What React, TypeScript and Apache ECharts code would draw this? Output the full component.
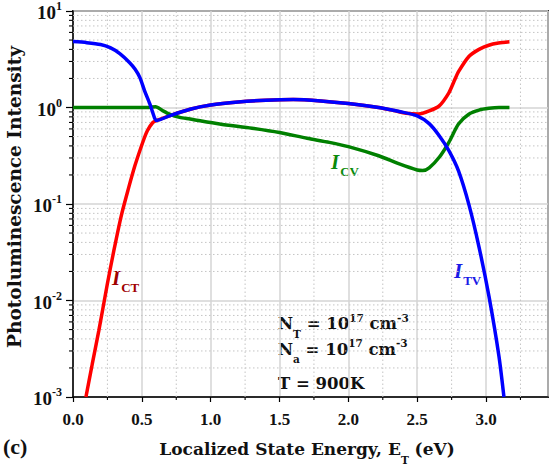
import React, { useEffect, useRef } from "react";
import * as echarts from "echarts";

// ---- data ----
const xCT = [0.094, 0.14, 0.188, 0.25, 0.297, 0.35, 0.4, 0.45, 0.51, 0.54, 0.58, 0.61, 0.7, 0.85, 1.0, 1.2, 1.4, 1.6, 1.8, 2.0, 2.22, 2.33, 2.42, 2.51, 2.587, 2.66, 2.73, 2.77, 2.8, 2.877, 2.949, 3.02, 3.09, 3.17];
const yCT = [0.001, 0.0022, 0.0049, 0.015, 0.033, 0.075, 0.14, 0.25, 0.45, 0.575, 0.7, 0.735, 0.82, 0.96, 1.06, 1.14, 1.19, 1.21, 1.17, 1.1, 1.0, 0.93, 0.87, 0.855, 0.92, 1.04, 1.42, 1.9, 2.35, 3.4, 4.0, 4.42, 4.65, 4.8];

const xCV = [0, 0.2, 0.4, 0.55, 0.6, 0.65, 0.7, 0.775, 0.85, 1.065, 1.3, 1.5, 1.7, 1.862, 2.0, 2.22, 2.37, 2.5, 2.54, 2.587, 2.66, 2.73, 2.8, 2.877, 2.949, 3.02, 3.094, 3.17];
const yCV = [1.0, 1.0, 1.0, 1.0, 1.02, 0.93, 0.855, 0.79, 0.76, 0.675, 0.61, 0.55, 0.48, 0.435, 0.393, 0.316, 0.26, 0.225, 0.222, 0.237, 0.305, 0.436, 0.674, 0.855, 0.94, 0.98, 1.0, 1.0];

const xTV = [0, 0.1, 0.2, 0.27, 0.34, 0.41, 0.45, 0.486, 0.52, 0.558, 0.594, 0.61, 0.7, 0.85, 1.0, 1.2, 1.4, 1.6, 1.8, 2.0, 2.22, 2.37, 2.5, 2.587, 2.66, 2.73, 2.8, 2.877, 2.949, 3.022, 3.094, 3.13];
const yTV = [4.82, 4.7, 4.5, 4.17, 3.62, 2.93, 2.5, 2.04, 1.49, 1.09, 0.77, 0.735, 0.82, 0.96, 1.06, 1.14, 1.19, 1.21, 1.17, 1.1, 1.0, 0.91, 0.82, 0.68, 0.51, 0.357, 0.22, 0.0967, 0.0358, 0.0109, 0.00263, 0.001];

const xMinorTicks = [0.25, 0.75, 1.25, 1.75, 2.25, 2.75, 3.25];
const yDecades = [0.001, 0.01, 0.1, 1];
const yMinorMultipliers = [2, 3, 4, 5, 6, 7, 8, 9];

const X_MIN = 0;
const X_MAX = 3.45;
const Y_MIN = 0.001;
const Y_MAX = 10;

const FONT = "Liberation Serif";
const TITLE_FONT = "DejaVu Serif";

const yMinorValues: number[] = [];
yDecades.forEach((d) => yMinorMultipliers.forEach((m) => yMinorValues.push(d * m)));

const zip = (xs: number[], ys: number[]) => xs.map((x, i) => [x, ys[i]]);

export default function App() {
  const ref = useRef<HTMLDivElement>(null);
  useEffect(() => {
    if (!ref.current) return;
    const chart = echarts.init(ref.current, null, { renderer: "svg" });
    const minorStroke = { stroke: "#c4c4c4", lineWidth: 1, lineDash: [1.5, 2.5] };
    const option: any = {
      animation: false,
      backgroundColor: "#fff",
      grid: {
        left: 73,
        right: 2,
        top: 10,
        bottom: 72,
        show: true,
        borderColor: "#333",
        borderWidth: 2,
        backgroundColor: "transparent",
      },
      xAxis: {
        type: "value",
        min: X_MIN,
        max: X_MAX,
        interval: 0.5,
        axisLine: { show: true, onZero: false, lineStyle: { color: "#000", width: 1.5 } },
        axisTick: { show: true, inside: false, length: 5, lineStyle: { color: "#000", width: 1.2 } },
        axisLabel: {
          showMaxLabel: false,
          margin: 14,
          color: "#111",
          fontFamily: FONT,
          fontWeight: "bold",
          fontSize: 17,
          formatter: (v: number) => v.toFixed(1),
        },
        splitLine: { show: true, lineStyle: { color: "#d4d4d4", width: 1.5 } },
      },
      yAxis: {
        type: "log",
        logBase: 10,
        min: Y_MIN,
        max: Y_MAX,
        axisLine: { show: true, onZero: false, lineStyle: { color: "#000", width: 1.5 } },
        axisTick: { show: true, inside: false, length: 7, lineStyle: { color: "#000", width: 1.2 } },
        axisLabel: {
          margin: 11,
          color: "#111",
          formatter: (v: number) => `{b|10}{s|${Math.round(Math.log10(v))}}`,
          rich: {
            b: { fontFamily: FONT, fontWeight: "bold", fontSize: 19, lineHeight: 22, verticalAlign: "bottom", color: "#111" },
            s: { fontFamily: FONT, fontWeight: "bold", fontSize: 12, lineHeight: 12, verticalAlign: "top", color: "#111" },
          },
        },
        splitLine: { show: true, lineStyle: { color: "#d4d4d4", width: 1.5 } },
      },
      series: [
        {
          type: "custom",
          z: 1,
          silent: true,
          clip: false,
          data: yMinorValues.map((v) => [X_MIN, v]),
          renderItem: (_p: any, api: any) => {
            const v = api.value(1);
            const a = api.coord([X_MIN, v]);
            const b = api.coord([X_MAX, v]);
            return {
              type: "group",
              children: [
                { type: "line", shape: { x1: a[0], y1: a[1], x2: b[0], y2: b[1] }, style: minorStroke },
                { type: "line", shape: { x1: a[0] - 4, y1: a[1], x2: a[0], y2: a[1] }, style: { stroke: "#000", lineWidth: 1.1 } },
              ],
            };
          },
        },
        {
          type: "custom",
          z: 1,
          silent: true,
          clip: false,
          data: xMinorTicks.map((x) => [x, Y_MIN]),
          renderItem: (_p: any, api: any) => {
            const x = api.value(0);
            const a = api.coord([x, Y_MIN]);
            const b = api.coord([x, Y_MAX]);
            return {
              type: "group",
              children: [
                { type: "line", shape: { x1: a[0], y1: a[1], x2: b[0], y2: b[1] }, style: minorStroke },
                { type: "line", shape: { x1: a[0], y1: a[1], x2: a[0], y2: a[1] + 3 }, style: { stroke: "#000", lineWidth: 1.1 } },
              ],
            };
          },
        },
        {
          name: "ICT",
          type: "line",
          z: 3,
          data: zip(xCT, yCT),
          showSymbol: false,
          smooth: 0.25,
          lineStyle: { color: "#ff0000", width: 3.5 },
        },
        {
          name: "ICV",
          type: "line",
          z: 4,
          data: zip(xCV, yCV),
          showSymbol: false,
          smooth: 0.25,
          lineStyle: { color: "#008000", width: 3.5 },
        },
        {
          name: "ITV",
          type: "line",
          z: 5,
          data: zip(xTV, yTV),
          showSymbol: false,
          smooth: 0.25,
          lineStyle: { color: "#0000ff", width: 3.5 },
        },
      ],
      graphic: [
        {
          type: "text",
          x: 14,
          y: 197,
          rotation: Math.PI / 2,
          style: {
            text: "Photoluminescence Intensity",
            fontFamily: TITLE_FONT,
            fontWeight: "bold",
            fontSize: 18.5,
            fill: "#111",
            align: "center",
            verticalAlign: "middle",
          },
        },
        {
          type: "text",
          x: 307,
          y: 451,
          style: {
            text: "{m|Localized State Energy, E}{sub|T}{m| (eV)}",
            align: "center",
            verticalAlign: "middle",
            rich: {
              m: { fontFamily: TITLE_FONT, fontWeight: "bold", fontSize: 17, lineHeight: 17, verticalAlign: "top", padding: [3, 0, 0, 0], fill: "#111" },
              sub: { fontFamily: TITLE_FONT, fontWeight: "bold", fontSize: 10.5, lineHeight: 28, verticalAlign: "bottom", fill: "#111" },
            },
          },
        },
        {
          type: "text",
          x: 3,
          y: 446,
          style: { text: "(c)", fontFamily: FONT, fontWeight: "bold", fontSize: 22, fill: "#111", align: "left", verticalAlign: "middle" },
        },
        ...[
          { t: "{m|N}{sub|T}{m| = 10}{sup|17}{m| cm}{sup|-3}", y: 325.5 },
          { t: "{m|N}{sub|a}{m| = 10}{sup|17}{m| cm}{sup|-3}", y: 351 },
          { t: "{m|T = 900K}", y: 380 },
        ].map((r) => ({
          type: "text",
          x: 278,
          y: r.y,
          style: {
            text: r.t,
            align: "left",
            verticalAlign: "middle",
            rich: {
              m: { fontFamily: TITLE_FONT, fontWeight: "bold", fontSize: 16.5, lineHeight: 16.5, verticalAlign: "top", padding: [3, 0, 0, 0], fill: "#111" },
              sub: { fontFamily: TITLE_FONT, fontWeight: "bold", fontSize: 10.5, lineHeight: 27, verticalAlign: "bottom", fill: "#111" },
              sup: { fontFamily: TITLE_FONT, fontWeight: "bold", fontSize: 10.5, lineHeight: 10.5, verticalAlign: "top", fill: "#111" },
            },
          },
        })),
        ...[
          { t: "CT", x: 112, y: 281, c: "#a00000" },
          { t: "CV", x: 331, y: 165, c: "#0a8a0a" },
          { t: "TV", x: 454, y: 274, c: "#1a1ae6" },
        ].map((r) => ({
          type: "text",
          x: r.x,
          y: r.y,
          style: {
            text: `{i|I}{sub|${r.t}}`,
            align: "left",
            verticalAlign: "middle",
            rich: {
              i: { fontFamily: FONT, fontWeight: "bold", fontStyle: "italic", fontSize: 21, lineHeight: 21, verticalAlign: "top", fill: r.c },
              sub: { fontFamily: FONT, fontWeight: "bold", fontSize: 13, lineHeight: 26.5, verticalAlign: "bottom", padding: [0, 0, 0, 1], fill: r.c },
            },
          },
        })),
      ],
    };
    chart.setOption(option);
    return () => chart.dispose();
  }, []);
  return <div ref={ref} style={{ width: 550, height: 469, position: "absolute", left: 0, top: 0 }} />;
}
